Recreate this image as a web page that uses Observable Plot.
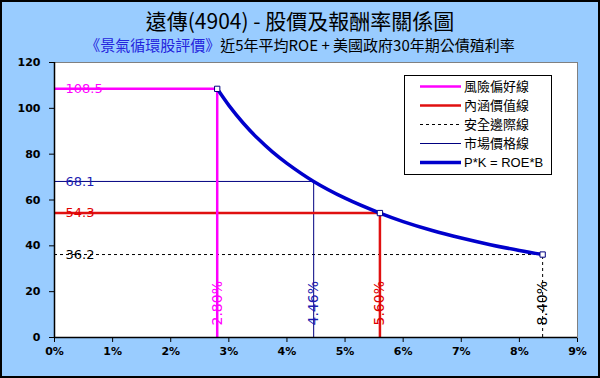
<!DOCTYPE html>
<html>
<head>
<meta charset="utf-8">
<script src="https://cdn.jsdelivr.net/npm/d3@7"></script>
<script src="https://cdn.jsdelivr.net/npm/@observablehq/plot@0.6"></script>
<style>
  html, body { margin: 0; padding: 0; }
  #wrap { position: relative; width: 600px; height: 378px; background: #99ccff; overflow: hidden; }
  #title { position: absolute; left: 0; top: 7px; width: 600px; text-align: center; font-family: "Noto Sans CJK TC", sans-serif; font-size: 21px; line-height: 26px; color: #000; }
  #sub { position: absolute; left: 0; top: 35px; width: 600px; text-align: center; font-family: "Noto Sans CJK TC", sans-serif; font-size: 15px; line-height: 20px; color: #000; }
  #sub .blue { color: #2424dd; }
  #chart { position: absolute; left: 0; top: 52px; }
  #legend { position: absolute; left: 404px; top: 75px; width: 148px; height: 100px; box-sizing: border-box; border: 1px solid #000; background: #fff; }
  .row { position: absolute; left: 0; height: 19px; width: 146px; }
  .row svg { position: absolute; left: 15px; top: 0; }
  .row span { position: absolute; left: 59px; top: 0; line-height: 19px; font-family: "Liberation Sans", "Noto Sans CJK TC", sans-serif; font-size: 13px; color: #000; white-space: nowrap; }
  #border { position: absolute; left: 0; top: 0; width: 600px; height: 378px; box-sizing: border-box; border: 2px solid #000; pointer-events: none; }
</style>
</head>
<body>
<div id="wrap">
  <div id="title"></div>
  <div id="sub"></div>
  <div id="chart"></div>
  <div id="legend"></div>
  <div id="border"></div>
</div>
<script>
// ---- data ----
const titleText = "遠傳(4904) - 股價及報酬率關係圖";
const subtitleBlue = "《景氣循環股評價》";
const subtitleRest = "近5年平均ROE + 美國政府30年期公債殖利率";

const xTicks = [0, 1, 2, 3, 4, 5, 6, 7, 8, 9];          // percent
const yTicks = [0, 20, 40, 60, 80, 100, 120];

const levelNames  = ["安全邊際線", "市場價格線", "內涵價值線", "風險偏好線"];
const levelRates  = [8.40, 4.46, 5.60, 2.80];            // percent
const levelPrices = [36.2, 68.1, 54.3, 108.5];

const curveName   = "P*K = ROE*B";
const curveRates  = [2.8, 3.0, 3.25, 3.5, 3.75, 4.0, 4.46, 5.0, 5.6, 6.0, 6.5, 7.0, 7.5, 8.0, 8.4];
const curvePrices = [108.5, 101.3, 93.5, 86.8, 81.0, 76.0, 68.1, 60.8, 54.3, 50.6, 46.7, 43.4, 40.5, 38.0, 36.2];
const markerRates = [2.8, 5.6, 8.4];

const legendOrder = ["風險偏好線", "內涵價值線", "安全邊際線", "市場價格線", curveName];

// ---- styles ----
const styles = {
  "風險偏好線": {stroke: "#ff00ff", width: 2.5, dash: null, text: "#ff00ff"},
  "內涵價值線": {stroke: "#e01010", width: 2.5, dash: null, text: "#e00000"},
  "安全邊際線": {stroke: "#000000", width: 1, dash: "3,3", text: "#000000"},
  "市場價格線": {stroke: "#000080", width: 1, dash: null, text: "#1c1cb0"},
  [curveName]:  {stroke: "#0000cc", width: 3.5, dash: null}
};

// ---- titles ----
document.getElementById("title").textContent = titleText;
const sub = document.getElementById("sub");
const sb = document.createElement("span"); sb.className = "blue"; sb.textContent = subtitleBlue;
sub.appendChild(sb);
sub.appendChild(document.createTextNode(subtitleRest));

// ---- chart ----
const levels = levelNames.map((name, i) => ({name, rate: levelRates[i], price: levelPrices[i]}));
const curve = curveRates.map((r, i) => ({rate: r, price: curvePrices[i]}));
const markers = curve.filter(d => markerRates.includes(d.rate));

const marks = [
  Plot.frame({fill: "white", stroke: "#808080"})
];
for (const lv of levels) {
  const s = styles[lv.name];
  marks.push(Plot.ruleY([lv], {x1: 0, x2: "rate", y: "price", stroke: s.stroke, strokeWidth: s.width, strokeDasharray: s.dash}));
  marks.push(Plot.ruleX([lv], {x: "rate", y1: 0, y2: "price", stroke: s.stroke, strokeWidth: s.width, strokeDasharray: s.dash}));
}
marks.push(Plot.ruleX([0], {stroke: "black", strokeWidth: 1.5}));
marks.push(Plot.ruleY([0], {stroke: "black", strokeWidth: 1.5}));
marks.push(Plot.line(curve, {x: "rate", y: "price", stroke: styles[curveName].stroke, strokeWidth: styles[curveName].width, curve: "catmull-rom"}));
marks.push(Plot.dot(markers, {x: "rate", y: "price", symbol: "square", r: 3, stroke: "#000080", fill: "white", strokeWidth: 1}));
for (const lv of levels) {
  const s = styles[lv.name];
  marks.push(Plot.text([lv], {x: 0, y: "price", text: d => d.price.toFixed(1), dx: 11, textAnchor: "start",
    fill: s.text, fontSize: 13, fontWeight: "normal", fontFamily: "DejaVu Sans"}));
  marks.push(Plot.text([lv], {x: "rate", y: 0, text: d => d.rate.toFixed(2) + "%", dy: -12, rotate: -90, textAnchor: "start",
    fill: s.text, fontSize: 14, fontWeight: "normal", fontFamily: "DejaVu Sans"}));
}

const chart = Plot.plot({
  width: 600,
  height: 326,
  marginTop: 10,
  marginBottom: 41,
  marginLeft: 54,
  marginRight: 23,
  style: {background: "transparent", fontFamily: "DejaVu Sans", fontSize: "11px", fontWeight: "bold", color: "black"},
  x: {domain: [0, 9], ticks: xTicks, tickFormat: d => d + "%", tickSize: 5, tickPadding: 5, label: null},
  y: {domain: [0, 120], ticks: yTicks, tickSize: 5, tickPadding: 9, label: null},
  marks
});
document.getElementById("chart").appendChild(chart);

// ---- legend ----
const legend = document.getElementById("legend");
legendOrder.forEach((name, i) => {
  const s = styles[name];
  const row = document.createElement("div");
  row.className = "row";
  row.style.top = (1 + 19 * i) + "px";
  const svg = d3.create("svg").attr("width", 41).attr("height", 19);
  svg.append("line").attr("x1", 0).attr("x2", 41).attr("y1", 9.5).attr("y2", 9.5)
    .attr("stroke", s.stroke).attr("stroke-width", s.width)
    .attr("stroke-dasharray", s.dash);
  row.appendChild(svg.node());
  const t = document.createElement("span");
  t.textContent = name;
  row.appendChild(t);
  legend.appendChild(row);
});
</script>
</body>
</html>
